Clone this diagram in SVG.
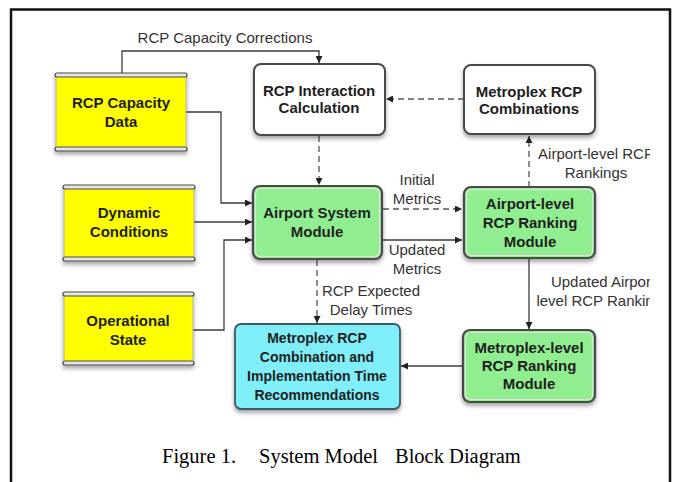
<svg xmlns="http://www.w3.org/2000/svg" width="676" height="482" viewBox="0 0 676 482">
<defs>
<style>
.nt{font-family:"Liberation Sans",Arial,sans-serif;font-weight:bold;font-size:15px;fill:#1e1e1e;text-anchor:middle}
.lb{font-family:"Liberation Sans",Arial,sans-serif;font-size:15px;fill:#333;text-anchor:middle}
.cap{font-family:"Liberation Serif","Times New Roman",serif;font-size:20.5px;fill:#000}
.ln{fill:none;stroke:#3c3c3c;stroke-width:1.3}
.dl{fill:none;stroke:#555;stroke-width:1.3;stroke-dasharray:6 4}
.yb{fill:#ffff00;stroke:#b0b0a0;stroke-width:1}
.bar{fill:#e6e6e6;stroke:#4a4a4a;stroke-width:1.2}
.wb{fill:#ffffff;stroke:#4a4a4a;stroke-width:2}
.gb{fill:#90ee90;stroke:#4a4a4a;stroke-width:2.2}
.gi{fill:none;stroke:#e0e0e0;stroke-width:1.2}
.cb{fill:#80eef8;stroke:#3d5a60;stroke-width:1.8}
</style>
<filter id="sh" x="-10%" y="-10%" width="130%" height="140%">
<feDropShadow dx="0" dy="3" stdDeviation="2" flood-color="#000" flood-opacity="0.35"/>
</filter>
<marker id="ah" viewBox="0 0 10 10" refX="10" refY="5" markerWidth="7" markerHeight="7" markerUnits="userSpaceOnUse" orient="auto">
<path d="M0,0 L10,5 L0,10 z" fill="#222"/>
</marker>
<clipPath id="fr"><rect x="0" y="0" width="650" height="482"/></clipPath>
</defs>
<rect width="676" height="482" fill="#fff"/>
<path d="M11,482 V9.5 H670 V482" fill="none" stroke="#111" stroke-width="2.5"/>

<g id="connectors">
<path class="ln" d="M122,73 V51 H319 V63" marker-end="url(#ah)"/>
<path class="dl" d="M464,99 H386" marker-end="url(#ah)"/>
<path class="dl" d="M319,136 V185" marker-end="url(#ah)"/>
<path class="ln" d="M186,112 H221 V203 H252" marker-end="url(#ah)"/>
<path class="ln" d="M194,222 H252" marker-end="url(#ah)"/>
<path class="ln" d="M193,330 H224 V240 H252" marker-end="url(#ah)"/>
<path class="dl" d="M383,209 H462" marker-end="url(#ah)"/>
<path class="ln" d="M383,240 H462" marker-end="url(#ah)"/>
<path class="dl" d="M529,187 V136" marker-end="url(#ah)"/>
<path class="ln" d="M529,259 V329" marker-end="url(#ah)"/>
<path class="dl" d="M317,260 V323" marker-end="url(#ah)"/>
<path class="ln" d="M463,366 H401" marker-end="url(#ah)"/>
<text class="lb" x="225" y="43">RCP Capacity Corrections</text>
<text class="lb" x="417" y="185">Initial</text>
<text class="lb" x="417" y="204">Metrics</text>
<text class="lb" x="417" y="255">Updated</text>
<text class="lb" x="417" y="274">Metrics</text>
<text class="lb" x="371" y="296">RCP Expected</text>
<text class="lb" x="371" y="315">Delay Times</text>
<g clip-path="url(#fr)">
<text class="lb" x="596" y="159">Airport-level RCP</text>
<text class="lb" x="596" y="178">Rankings</text>
<text class="lb" x="603" y="287">Updated Airport</text>
<text class="lb" x="603" y="306">level RCP Rankings</text>
</g>
</g>

<g id="rcp-capacity-data">
<g filter="url(#sh)">
<rect class="yb" x="56" y="75" width="130" height="74"/>
<rect class="bar" x="55" y="73" width="132" height="4" rx="2"/>
<rect class="bar" x="55" y="147" width="132" height="4" rx="2"/>
</g>
<text class="nt" x="121" y="108">RCP Capacity</text>
<text class="nt" x="121" y="127">Data</text>
</g>

<g id="dynamic-conditions">
<g filter="url(#sh)">
<rect class="yb" x="64" y="187" width="130" height="72"/>
<rect class="bar" x="63" y="185" width="132" height="4" rx="2"/>
<rect class="bar" x="63" y="257" width="132" height="4" rx="2"/>
</g>
<text class="nt" x="129" y="218">Dynamic</text>
<text class="nt" x="129" y="237">Conditions</text>
</g>

<g id="operational-state">
<g filter="url(#sh)">
<rect class="yb" x="64" y="294" width="129" height="69"/>
<rect class="bar" x="63" y="292" width="131" height="4" rx="2"/>
<rect class="bar" x="63" y="361" width="131" height="4" rx="2"/>
</g>
<text class="nt" x="128" y="326">Operational</text>
<text class="nt" x="128" y="345">State</text>
</g>

<g id="rcp-interaction">
<rect class="wb" x="254" y="64" width="131" height="71" rx="7" filter="url(#sh)"/>
<text class="nt" x="319" y="96">RCP Interaction</text>
<text class="nt" x="319" y="113">Calculation</text>
</g>

<g id="metroplex-rcp-combinations">
<rect class="wb" x="464" y="65" width="131" height="69" rx="7" filter="url(#sh)"/>
<text class="nt" x="529" y="97">Metroplex RCP</text>
<text class="nt" x="529" y="114">Combinations</text>
</g>

<g id="airport-system-module">
<rect class="gb" x="253" y="186" width="129" height="73" rx="7" filter="url(#sh)"/>
<rect class="gi" x="255.5" y="188.5" width="124" height="68" rx="5"/>
<text class="nt" x="317" y="218">Airport System</text>
<text class="nt" x="317" y="237">Module</text>
</g>

<g id="airport-level-ranking">
<rect class="gb" x="464" y="187" width="131" height="71" rx="7" filter="url(#sh)"/>
<rect class="gi" x="466.5" y="189.5" width="126" height="66" rx="5"/>
<text class="nt" x="530" y="209">Airport-level</text>
<text class="nt" x="530" y="228">RCP Ranking</text>
<text class="nt" x="530" y="247">Module</text>
</g>

<g id="metroplex-level-ranking">
<rect class="gb" x="463" y="330" width="132" height="72" rx="7" filter="url(#sh)"/>
<rect class="gi" x="465.5" y="332.5" width="127" height="67" rx="5"/>
<text class="nt" x="529" y="353">Metroplex-level</text>
<text class="nt" x="529" y="371">RCP Ranking</text>
<text class="nt" x="529" y="389">Module</text>
</g>

<g id="metroplex-recommendations">
<rect class="cb" x="235" y="324" width="165" height="85" rx="6" filter="url(#sh)"/>
<text class="nt" x="317" y="343" style="font-size:14px">Metroplex RCP</text>
<text class="nt" x="317" y="362" style="font-size:14px">Combination and</text>
<text class="nt" x="317" y="381" style="font-size:14px">Implementation Time</text>
<text class="nt" x="317" y="400" style="font-size:14px">Recommendations</text>
</g>

<g id="caption">
<text class="cap" x="162" y="463">Figure 1.</text>
<text class="cap" x="259" y="463">System Model</text>
<text class="cap" x="395" y="463">Block Diagram</text>
</g>
</svg>
